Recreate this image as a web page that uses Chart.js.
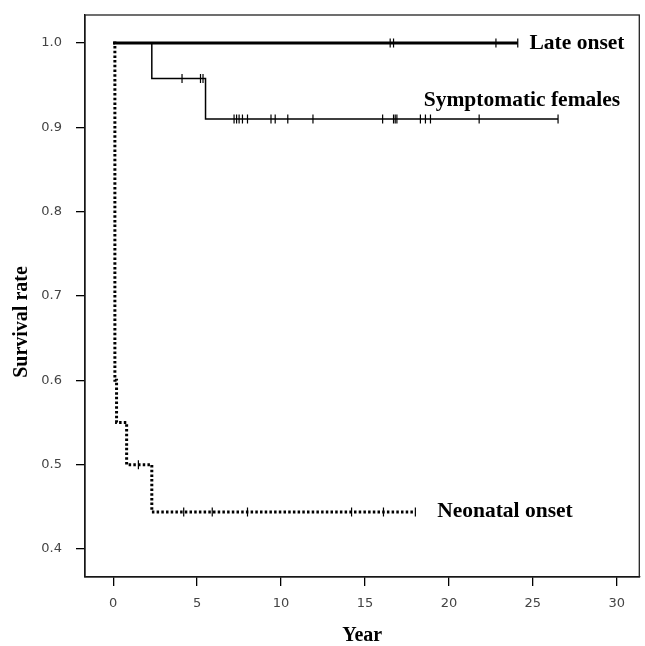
<!DOCTYPE html>
<html>
<head>
<meta charset="utf-8">
<script src="https://cdn.jsdelivr.net/npm/chart.js@4/dist/chart.umd.min.js"></script>
<style>
  html, body { margin: 0; padding: 0; background: #ffffff; }
  #wrap { width: 645px; height: 646px; }
</style>
</head>
<body>
<div id="wrap"><canvas id="c" width="645" height="646"></canvas></div>
<script>
// ---- data ----
const xTickValues = [0, 5, 10, 15, 20, 25, 30];
const yTickValues = [0.4, 0.5, 0.6, 0.7, 0.8, 0.9, 1.0];

const lateTimes = [0, 24.1];
const lateSurv  = [1.0, 1.0];
const lateCensor = [16.5, 16.7, 22.8, 24.1];

const sympTimes = [0, 2.3, 5.5, 26.5];
const sympSurv  = [1.0, 0.958, 0.910, 0.910];
const sympCensor = [4.1, 5.2, 5.35, 7.2, 7.35, 7.5, 7.7, 8.0, 9.4, 9.65, 10.4, 11.9,
                    16.05, 16.7, 16.8, 16.9, 18.3, 18.6, 18.9, 21.8, 26.5];

const neoTimes = [0, 0.1, 0.2, 0.8, 2.3, 18.0];
const neoSurv  = [1.0, 0.6, 0.55, 0.5, 0.444, 0.444];
const neoCensor = [1.5, 4.2, 5.9, 8.0, 14.2, 16.1, 18.0];

const curveNames = ['Late onset', 'Symptomatic females', 'Neonatal onset'];
const xTitle = 'Year';
const yTitle = 'Survival rate';

// ---- helpers ----
function curve(times, surv) { return times.map((t, i) => ({ x: t, y: surv[i] })); }
function survAt(times, surv, t) {
  let v = surv[0];
  for (let i = 0; i < times.length; i++) if (times[i] <= t) v = surv[i];
  return v;
}
function censorPts(ct, times, surv) { return ct.map(t => ({ x: t, y: survAt(times, surv, t) })); }

const serif = '"Liberation Serif", "Times New Roman", serif';

const lineBase = { pointRadius: 0, stepped: true, fill: false, tension: 0, borderColor: '#000' };
const censorBase = { showLine: false, pointStyle: 'line', rotation: 90, pointRadius: 4.5,
  pointBorderWidth: 1.2, pointBorderColor: '#000', borderColor: '#000', pointHoverRadius: 4.5 };

const labelPlugin = {
  id: 'labels',
  afterDraw(chart) {
    const ctx = chart.ctx, xs = chart.scales.x, ys = chart.scales.y, ca = chart.chartArea;
    ctx.save();
    ctx.fillStyle = '#000';
    ctx.font = 'bold 21.5px ' + serif;
    ctx.textBaseline = 'middle';
    ctx.textAlign = 'left';
    const anchors = [[24.8, 1.0], [18.5, 0.932], [19.3, 0.444]];
    curveNames.forEach((n, i) => {
      ctx.fillText(n, xs.getPixelForValue(anchors[i][0]), ys.getPixelForValue(anchors[i][1]));
    });
    // frame
    ctx.strokeStyle = '#222';
    ctx.lineWidth = 1.3;
    ctx.strokeRect(ca.left, ca.top, ca.right - ca.left, ca.bottom - ca.top);
    // axis titles
    ctx.font = 'bold 20px ' + serif;
    ctx.textAlign = 'center';
    ctx.fillText(xTitle, (ca.left + ca.right) / 2, 636);
    ctx.translate(22, 322);
    ctx.rotate(-Math.PI / 2);
    ctx.fillText(yTitle, 0, 0);
    ctx.restore();
  }
};

new Chart(document.getElementById('c'), {
  type: 'line',
  data: {
    datasets: [
      Object.assign({ label: curveNames[2], data: curve(neoTimes, neoSurv), borderWidth: 3,
        borderDash: [2.5, 2.2], borderCapStyle: 'butt' }, lineBase),
      Object.assign({ label: curveNames[2] + ' censored', data: censorPts(neoCensor, neoTimes, neoSurv) }, censorBase),
      Object.assign({ label: curveNames[1], data: curve(sympTimes, sympSurv), borderWidth: 1.5 }, lineBase),
      Object.assign({ label: curveNames[1] + ' censored', data: censorPts(sympCensor, sympTimes, sympSurv) }, censorBase),
      Object.assign({ label: curveNames[0], data: curve(lateTimes, lateSurv), borderWidth: 3 }, lineBase),
      Object.assign({ label: curveNames[0] + ' censored', data: censorPts(lateCensor, lateTimes, lateSurv) }, censorBase)
    ]
  },
  options: {
    responsive: false,
    animation: false,
    devicePixelRatio: 1,
    layout: { padding: { top: 15, right: 3, left: 0, bottom: 0 } },
    plugins: { legend: { display: false }, tooltip: { enabled: false } },
    events: [],
    scales: {
      x: {
        type: 'linear', min: -1.68, max: 31.34,
        afterBuildTicks: s => { s.ticks = xTickValues.map(v => ({ value: v })); },
        afterFit: s => { s.height = 69; s.paddingLeft = 0; s.paddingRight = 0; },
        ticks: { callback: v => String(v), color: '#444', padding: 10,
                 font: { family: '"DejaVu Sans", sans-serif', size: 13 } },
        grid: { drawOnChartArea: false, drawTicks: true, tickLength: 9, color: '#000', lineWidth: 1.3 },
        border: { display: true, color: '#000', width: 1.3 }
      },
      y: {
        type: 'linear', min: 0.3668, max: 1.0332,
        afterBuildTicks: s => { s.ticks = yTickValues.map(v => ({ value: v })); },
        afterFit: s => { s.width = 85; s.paddingTop = 0; s.paddingBottom = 0; },
        ticks: { callback: v => Number(v).toFixed(1), color: '#444', padding: 14,
                 font: { family: '"DejaVu Sans", sans-serif', size: 13 } },
        grid: { drawOnChartArea: false, drawTicks: true, tickLength: 9, color: '#000', lineWidth: 1.3 },
        border: { display: true, color: '#000', width: 1.3 }
      }
    }
  },
  plugins: [labelPlugin]
});
</script>
</body>
</html>
